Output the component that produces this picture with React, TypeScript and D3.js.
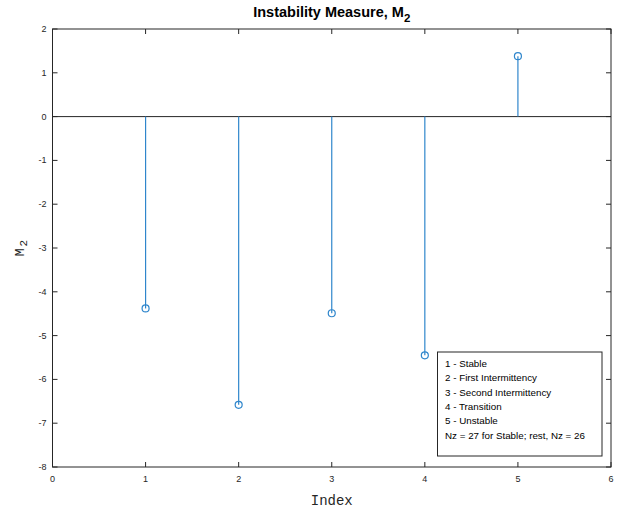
import React from "react";
import * as d3 from "d3";

const indices = [1, 2, 3, 4, 5];
const m2Values = [-4.38, -6.58, -4.49, -5.45, 1.38];
const xTicks = [0, 1, 2, 3, 4, 5, 6];
const yTicks = [2, 1, 0, -1, -2, -3, -4, -5, -6, -7, -8];
const legendLines = [
  "1 - Stable",
  "2 - First Intermittency",
  "3 - Second Intermittency",
  "4 - Transition",
  "5 - Unstable",
  "Nz = 27 for Stable; rest, Nz = 26",
];

const W = 628;
const H = 514;
const left = 52.5;
const right = 611;
const top = 29;
const bottom = 467;
const axisColor = "#262626";
const stemColor = "#2f86cc";
const sans = "'Liberation Sans', Arial, Helvetica, sans-serif";
const mono = "'Liberation Mono', 'Courier New', monospace";

export default function App() {
  const x = d3.scaleLinear().domain([0, 6]).range([left, right]);
  const y = d3.scaleLinear().domain([-8, 2]).range([bottom, top]);
  const tick = 5;

  return (
    <svg
      width={W}
      height={H}
      style={{ position: "absolute", left: 0, top: 0, background: "#fff" }}
    >
      {/* title */}
      <text
        x={(left + right) / 2}
        y={17}
        textAnchor="middle"
        fontFamily={sans}
        fontWeight="bold"
        fontSize={14.5}
        fill="#000"
      >
        Instability Measure, M
        <tspan dy={5} fontSize={11.5}>
          2
        </tspan>
      </text>

      {/* zero baseline */}
      <line
        x1={left}
        x2={right}
        y1={y(0)}
        y2={y(0)}
        stroke={axisColor}
        strokeWidth={1}
      />

      {/* stems */}
      {indices.map((idx, i) => (
        <g key={idx}>
          <line
            x1={x(idx)}
            x2={x(idx)}
            y1={y(0)}
            y2={y(m2Values[i])}
            stroke={stemColor}
            strokeWidth={1.2}
          />
          <circle
            cx={x(idx)}
            cy={y(m2Values[i])}
            r={3.5}
            fill="none"
            stroke={stemColor}
            strokeWidth={1.2}
          />
        </g>
      ))}

      {/* axes box */}
      <rect
        x={left}
        y={top}
        width={right - left}
        height={bottom - top}
        fill="none"
        stroke={axisColor}
        strokeWidth={1}
      />

      {/* x ticks */}
      {xTicks.map((t) => (
        <g key={"x" + t}>
          <line x1={x(t)} x2={x(t)} y1={bottom} y2={bottom - tick} stroke={axisColor} />
          <line x1={x(t)} x2={x(t)} y1={top} y2={top + tick} stroke={axisColor} />
          <text
            x={x(t)}
            y={bottom + 15}
            textAnchor="middle"
            fontFamily={sans}
            fontSize={9}
            fill={axisColor}
          >
            {t}
          </text>
        </g>
      ))}

      {/* y ticks */}
      {yTicks.map((t) => (
        <g key={"y" + t}>
          <line x1={left} x2={left + tick} y1={y(t)} y2={y(t)} stroke={axisColor} />
          <line x1={right} x2={right - tick} y1={y(t)} y2={y(t)} stroke={axisColor} />
          <text
            x={left - 6}
            y={y(t) + 3}
            textAnchor="end"
            fontFamily={sans}
            fontSize={9}
            fill={axisColor}
          >
            {t}
          </text>
        </g>
      ))}

      {/* axis labels */}
      <text
        x={(left + right) / 2}
        y={505}
        textAnchor="middle"
        fontFamily={mono}
        fontSize={14}
        fill={axisColor}
      >
        Index
      </text>
      <text
        transform={`translate(24, ${(top + bottom) / 2}) rotate(-90)`}
        textAnchor="middle"
        fontFamily={mono}
        fontSize={13}
        fill={axisColor}
      >
        M
        <tspan dx={2} dy={3} fontSize={11}>
          2
        </tspan>
      </text>

      {/* annotation box */}
      <rect
        x={437.5}
        y={352}
        width={164.5}
        height={104}
        fill="#fff"
        stroke={axisColor}
        strokeWidth={1}
      />
      {legendLines.map((line, i) => (
        <text
          key={line}
          x={445}
          y={367 + i * 14.3}
          fontFamily={sans}
          fontSize={9.8}
          fill="#000"
        >
          {line}
        </text>
      ))}
    </svg>
  );
}
